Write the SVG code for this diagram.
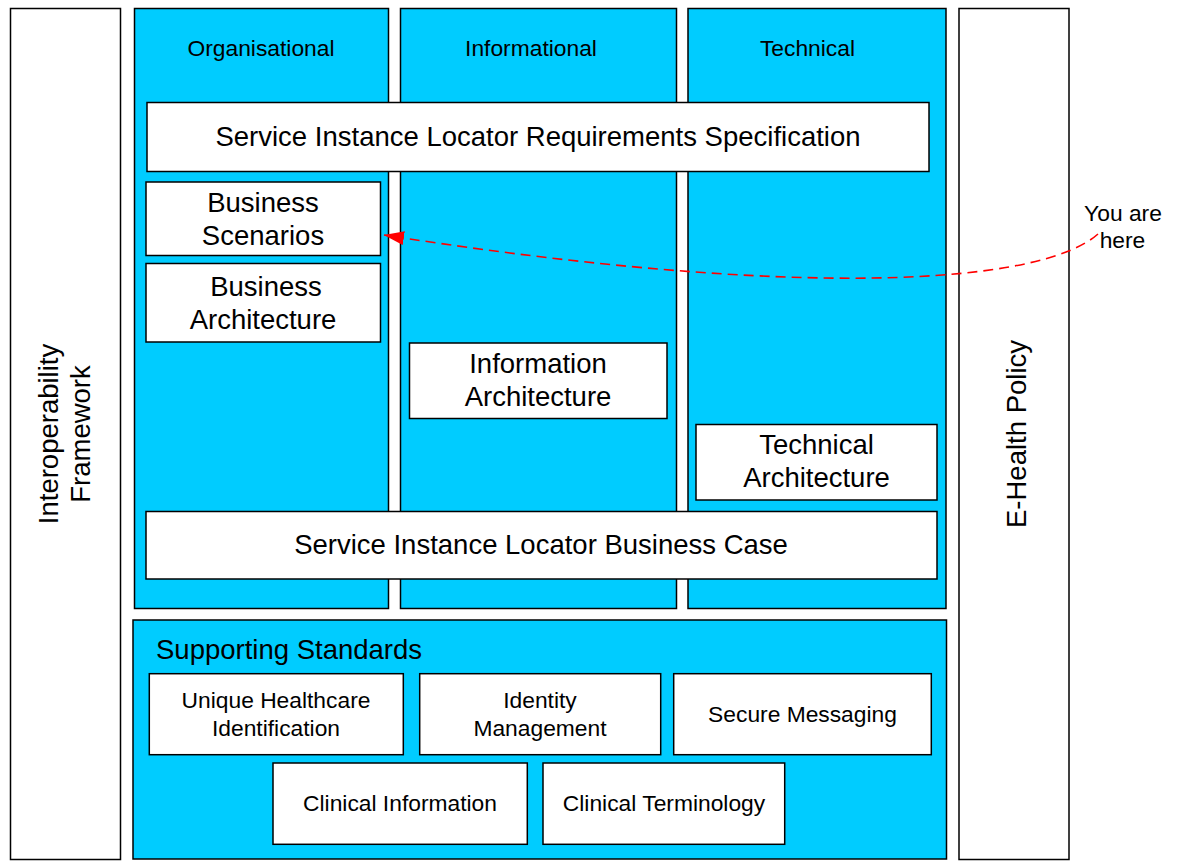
<svg xmlns="http://www.w3.org/2000/svg" width="1179" height="861" viewBox="0 0 1179 861">
<defs>
<style>
.box{fill:#FFFFFF;stroke:#000000;stroke-width:1.5}
.col{fill:#00CCFF;stroke:#000000;stroke-width:1.5}
.t{font-family:"Liberation Sans",Arial,sans-serif;fill:#000000;text-anchor:middle}
.s{font-size:22.8px}
.l{font-size:27.5px}
.conn{fill:none;stroke:#FF0000;stroke-width:1.6;stroke-dasharray:10 6}
</style>
<marker id="arr" markerUnits="userSpaceOnUse" markerWidth="22" markerHeight="16" refX="20" refY="7" orient="auto">
<path d="M0,0 L20,7 L0,14 z" fill="#FF0000"/>
</marker>
</defs>
<rect width="1179" height="861" fill="#FFFFFF"/>
<g id="interop-framework">
<rect class="box" x="10.5" y="8.5" width="110" height="851"/>
<text class="t l" transform="translate(57.5,434) rotate(-90)">Interoperability</text>
<text class="t l" transform="translate(90,434) rotate(-90)">Framework</text>
</g>
<g id="ehealth-policy">
<rect class="box" x="959" y="8.5" width="110" height="851"/>
<text class="t l" transform="translate(1025.5,434) rotate(-90)">E-Health Policy</text>
</g>
<g id="col-organisational">
<rect class="col" x="134.5" y="8.5" width="254" height="600"/>
<text class="t s" x="261" y="56">Organisational</text>
</g>
<g id="col-informational">
<rect class="col" x="400.5" y="8.5" width="276" height="600"/>
<text class="t s" x="531" y="56">Informational</text>
</g>
<g id="col-technical">
<rect class="col" x="688" y="8.5" width="258" height="600"/>
<text class="t s" x="807.5" y="56">Technical</text>
</g>
<g id="requirements-spec">
<rect class="box" x="147" y="102.5" width="782" height="69"/>
<text class="t l" x="538" y="145.5">Service Instance Locator Requirements Specification</text>
</g>
<g id="business-scenarios">
<rect class="box" x="146" y="182" width="234.5" height="73.5"/>
<text class="t l" x="263" y="212">Business</text>
<text class="t l" x="263" y="245">Scenarios</text>
</g>
<g id="business-architecture">
<rect class="box" x="146" y="263.5" width="234.5" height="78.5"/>
<text class="t l" x="266" y="296">Business</text>
<text class="t l" x="263" y="329">Architecture</text>
</g>
<g id="information-architecture">
<rect class="box" x="409.5" y="343" width="257.5" height="75.5"/>
<text class="t l" x="538" y="373">Information</text>
<text class="t l" x="538" y="406">Architecture</text>
</g>
<g id="technical-architecture">
<rect class="box" x="696" y="424.5" width="241" height="75.5"/>
<text class="t l" x="816.5" y="454">Technical</text>
<text class="t l" x="816.5" y="487">Architecture</text>
</g>
<g id="business-case">
<rect class="box" x="146" y="511.5" width="791" height="67.5"/>
<text class="t l" x="541" y="554">Service Instance Locator Business Case</text>
</g>
<g id="supporting-standards">
<rect class="col" x="133" y="620" width="813.5" height="239"/>
<text class="t l" x="156" y="659" style="text-anchor:start">Supporting Standards</text>
</g>
<g id="unique-healthcare">
<rect class="box" x="149.3" y="673.7" width="254" height="81"/>
<text class="t s" x="276" y="708">Unique Healthcare</text>
<text class="t s" x="276" y="736">Identification</text>
</g>
<g id="identity-management">
<rect class="box" x="419.7" y="673.7" width="241" height="81"/>
<text class="t s" x="540" y="708">Identity</text>
<text class="t s" x="540" y="736">Management</text>
</g>
<g id="secure-messaging">
<rect class="box" x="673.7" y="673.7" width="257.6" height="81"/>
<text class="t s" x="802.5" y="722">Secure Messaging</text>
</g>
<g id="clinical-information">
<rect class="box" x="273" y="763" width="254.3" height="81.3"/>
<text class="t s" x="400" y="811">Clinical Information</text>
</g>
<g id="clinical-terminology">
<rect class="box" x="543" y="763" width="241.7" height="81.3"/>
<text class="t s" x="664" y="811">Clinical Terminology</text>
</g>
<g id="you-are-here">
<text class="t s" x="1123" y="221">You are</text>
<text class="t s" x="1122.5" y="248">here</text>
</g>
<g id="connectors">
<path class="conn" d="M1098,234 C1040,285 800,300 384,235" marker-end="url(#arr)"/>
</g>
</svg>
